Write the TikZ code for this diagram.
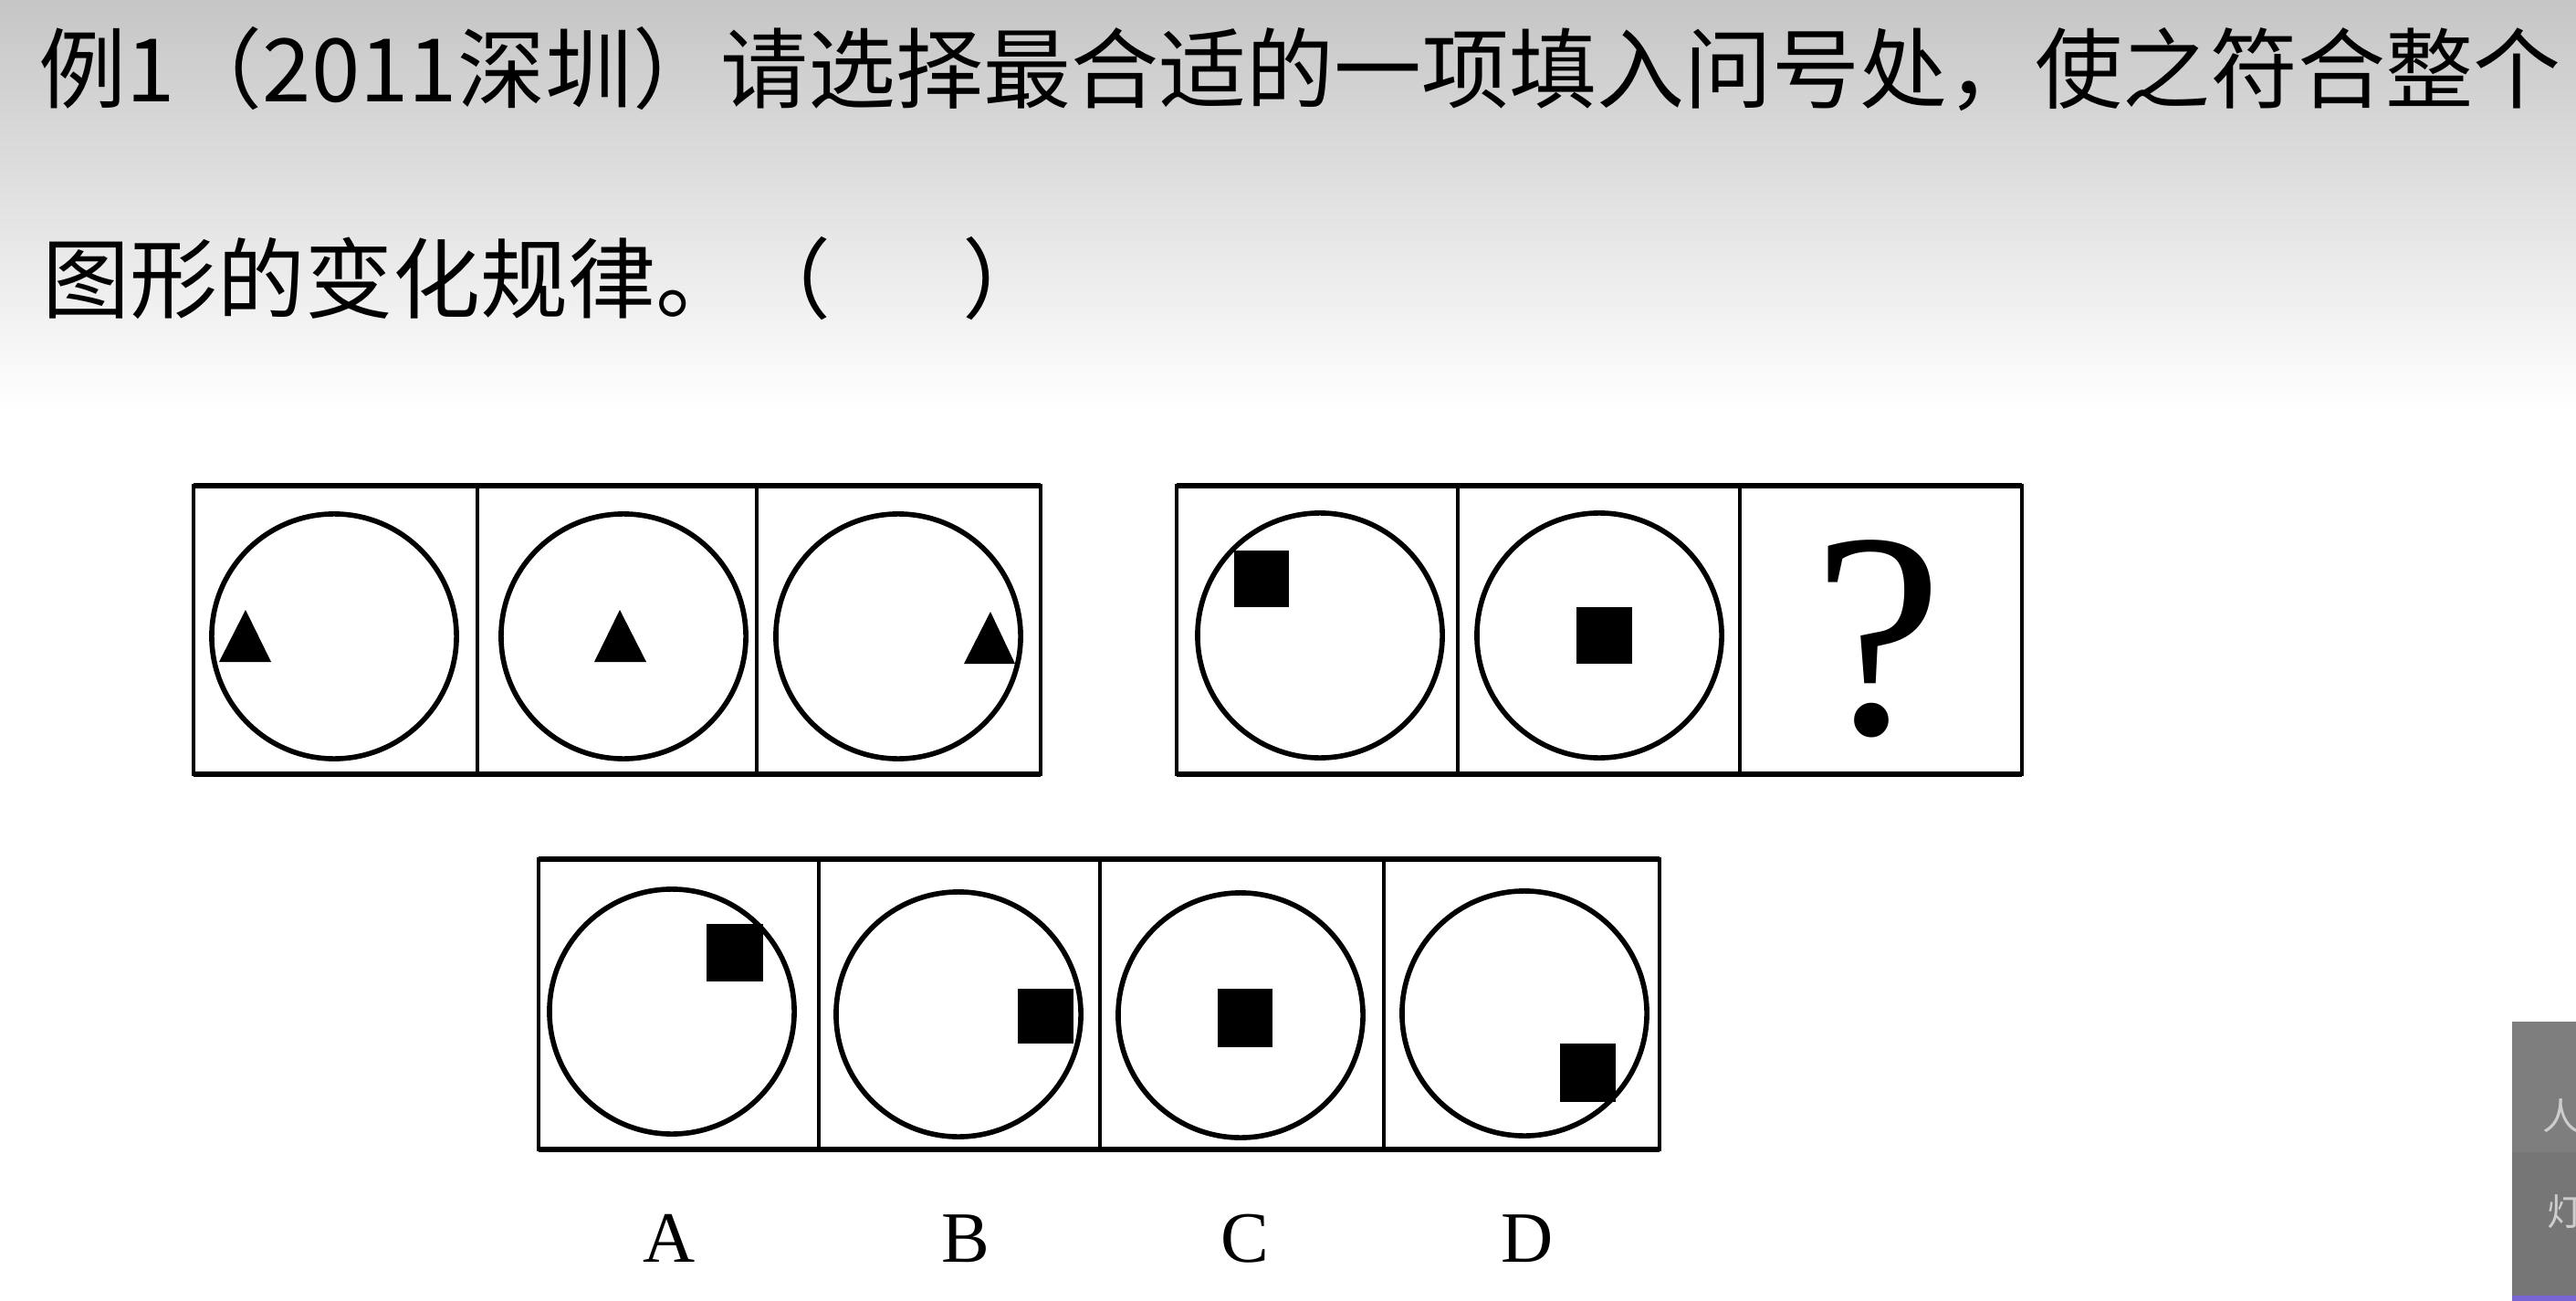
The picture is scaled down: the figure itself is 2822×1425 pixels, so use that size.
\documentclass[tikz,border=0pt]{standalone}
\usepackage{fontspec}
\setmainfont{Liberation Serif}
\newfontfamily\cjk{Noto Sans CJK SC}
\definecolor{panelgray}{RGB}{118,118,118}
\definecolor{panelgrayup}{RGB}{126,126,126}
\definecolor{paneltext}{RGB}{205,205,205}
\definecolor{panelline}{RGB}{120,100,210}
\begin{document}
\begin{tikzpicture}[x=0.01cm,y=-0.01cm,
  frame/.style={line width=1.2pt},
  rim/.style={line width=1.8pt},
  ring/.style={draw,circle,line width=1.6pt,minimum size=2.68cm,inner sep=0pt},
  blk/.style={fill=black},
  lbl/.style={anchor=base,inner sep=0pt,font=\fontsize{22.5}{27}\selectfont},
  cjktext/.style={anchor=base west,inner sep=0pt,font=\cjk\fontsize{27.3}{30}\selectfont}
]
\useasboundingbox (0,0) rectangle (2822,1425);
\fill[white] (0,0) rectangle (2822,1425);
\shade[top color=gray!45,bottom color=white] (0,0) rectangle (2822,450);

% title text
\node[cjktext] (l1) at (42,112) {例1（2011深圳）请选择最合适的一项填入问号处，使之符合整个};
\node[cjktext] (l2) at (46,342) {图形的变化规律。（\hspace{1.5em}）};

% row 1
\draw[frame] (212,532) rectangle (1140,848);
\draw[frame] (523,532) -- (523,848);
\draw[frame] (829,532) -- (829,848);
\draw[rim] (212,532) -- (1140,532);
\draw[rim] (212,848) -- (1140,848);
\node[ring] (c1) at (366,697) {};
\node[ring] (c2) at (683,697) {};
\node[ring] (c3) at (984,697) {};
\fill[blk] (240,725) -- (297,725) -- (269,668) -- cycle;
\fill[blk] (651,725) -- (708,725) -- (679,668) -- cycle;
\fill[blk] (1056,727) -- (1112,727) -- (1085,670) -- cycle;

% row 2
\draw[frame] (1289,532) rectangle (2215,848);
\draw[frame] (1597,532) -- (1597,848);
\draw[frame] (1906,532) -- (1906,848);
\draw[rim] (1289,532) -- (2215,532);
\draw[rim] (1289,848) -- (2215,848);
\node[ring] (c4) at (1446,696) {};
\node[ring] (c5) at (1752,696) {};
\fill[blk] (1352,603) rectangle (1412,665);
\fill[blk] (1727,665) rectangle (1788,727);
\node[anchor=base,inner sep=0pt,font=\fontsize{91}{100}\selectfont] (q) at (2057,803) {?};

% row 3 (options)
\draw[frame] (590,941) rectangle (1818,1259);
\draw[frame] (897,941) -- (897,1259);
\draw[frame] (1205,941) -- (1205,1259);
\draw[frame] (1516,941) -- (1516,1259);
\draw[rim] (590,941) -- (1818,941);
\draw[rim] (590,1259) -- (1818,1259);
\node[ring] (oa) at (736,1108) {};
\node[ring] (ob) at (1050,1111) {};
\node[ring] (oc) at (1359,1112) {};
\node[ring] (od) at (1670,1110) {};
\fill[blk] (774,1012) rectangle (836,1075);
\fill[blk] (1115,1083) rectangle (1176,1143);
\fill[blk] (1334,1083) rectangle (1394,1147);
\fill[blk] (1709,1143) rectangle (1770,1207);
\node[lbl] (la) at (733,1382) {A};
\node[lbl] (lb) at (1058,1382) {B};
\node[lbl] (lc) at (1364,1382) {C};
\node[lbl] (ld) at (1673,1382) {D};

% side panel
\fill[panelgray] (2752,1119) rectangle (2822,1425);
\fill[panelgrayup] (2752,1119) rectangle (2822,1262);
\fill[panelline] (2752,1419) rectangle (2822,1425);
\begin{scope}
\clip (2752,1119) rectangle (2822,1425);
\node[anchor=west,inner sep=0pt,text=paneltext,font=\cjk\fontsize{11.5}{13}\selectfont] (p1) at (2785,1222) {人};
\node[anchor=west,inner sep=0pt,text=paneltext,font=\cjk\fontsize{11.5}{13}\selectfont] (p2) at (2790,1327) {灯};
\end{scope}
\end{tikzpicture}
\end{document}
